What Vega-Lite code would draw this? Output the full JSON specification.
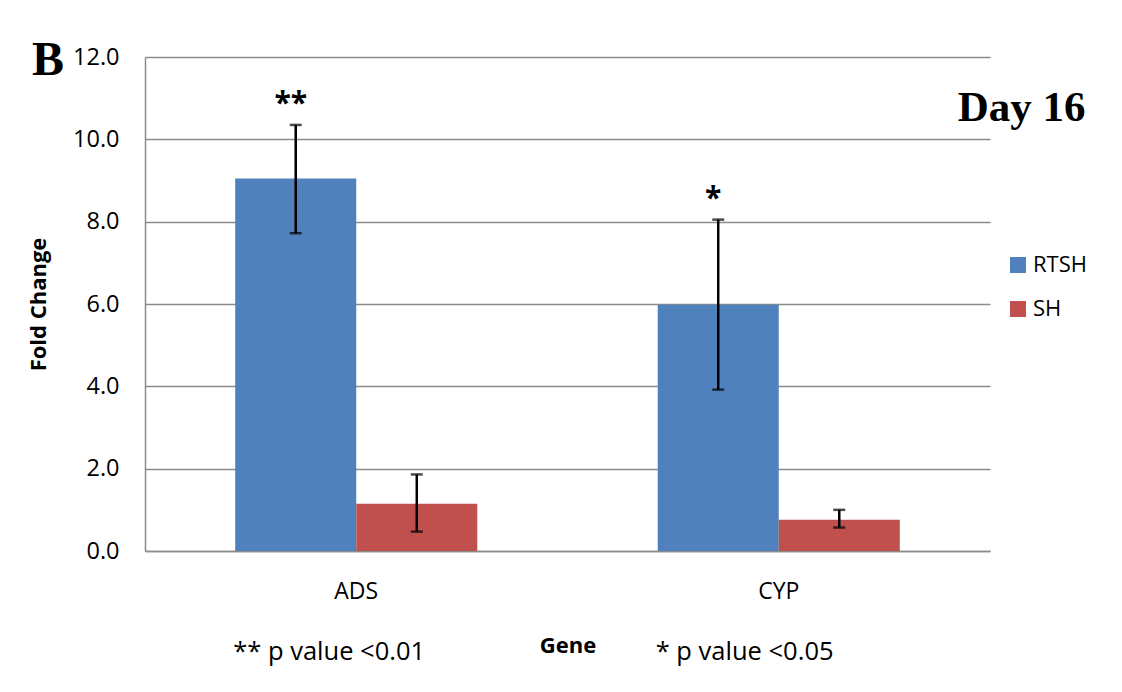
{
  "$schema": "https://vega.github.io/schema/vega-lite/v6.json",
  "width": 845,
  "height": 494,
  "autosize": "none",
  "padding": {"left": 145, "top": 57, "right": 132, "bottom": 141},
  "background": "#ffffff",
  "config": {
    "view": {"stroke": null},
    "font": "Open Sans"
  },
  "title": {
    "text": "B",
    "anchor": "start",
    "frame": "group",
    "font": "Liberation Serif",
    "fontSize": 48,
    "fontWeight": "bold",
    "color": "#000000",
    "baseline": "alphabetic",
    "offset": 0,
    "dx": -113,
    "dy": 78
  },
  "datasets": {
    "bars": [
      {"Gene": "ADS", "Group": "RTSH", "value": 9.05, "lower": 7.72, "upper": 10.35, "sig": "**"},
      {"Gene": "ADS", "Group": "SH", "value": 1.15, "lower": 0.47, "upper": 1.86, "sig": ""},
      {"Gene": "CYP", "Group": "RTSH", "value": 5.98, "lower": 3.92, "upper": 8.05, "sig": "*"},
      {"Gene": "CYP", "Group": "SH", "value": 0.76, "lower": 0.57, "upper": 1.0, "sig": ""}
    ],
    "notes": [
      {"Gene": "ADS", "note": "** p value <0.01"},
      {"Gene": "CYP", "note": "* p value <0.05"}
    ],
    "day": [
      {"Gene": "CYP", "label": "Day 16"}
    ]
  },
  "layer": [
    {
      "data": {"name": "bars"},
      "mark": {"type": "bar"},
      "encoding": {
        "x": {
          "field": "Gene",
          "type": "nominal",
          "scale": {"paddingInner": 0.427, "paddingOuter": 0.2135},
          "axis": {
            "title": "Gene",
            "labelAngle": 0,
            "labelFont": "Open Sans",
            "labelFontSize": 23,
            "labelColor": "#000000",
            "labelPadding": 29,
            "ticks": false,
            "domainColor": "#8c8c8c",
            "domainWidth": 1.5,
            "titleFont": "Open Sans",
            "titleFontSize": 22,
            "titleFontWeight": "bold",
            "titleColor": "#000000",
            "titlePadding": 32
          }
        },
        "xOffset": {
          "field": "Group",
          "type": "nominal",
          "scale": {"paddingInner": 0, "paddingOuter": 0}
        },
        "y": {
          "field": "value",
          "type": "quantitative",
          "scale": {"domain": [0, 12], "nice": false},
          "axis": {
            "title": "Fold Change",
            "values": [0, 2, 4, 6, 8, 10, 12],
            "format": ".1f",
            "grid": true,
            "gridColor": "#8c8c8c",
            "gridWidth": 1.5,
            "domainColor": "#8c8c8c",
            "domainWidth": 1.5,
            "ticks": false,
            "labelFont": "Open Sans",
            "labelFontSize": 23.5,
            "labelColor": "#000000",
            "labelPadding": 26,
            "titleFont": "Open Sans",
            "titleFontSize": 22,
            "titleFontWeight": "bold",
            "titleColor": "#000000",
            "titlePadding": 22
          }
        },
        "color": {
          "field": "Group",
          "type": "nominal",
          "scale": {"domain": ["RTSH", "SH"], "range": ["#4F81BD", "#C0504D"]},
          "legend": {
            "title": null,
            "orient": "none",
            "legendX": 862,
            "legendY": 197,
            "symbolType": "square",
            "symbolSize": 256,
            "symbolStrokeWidth": 0,
            "labelFont": "Open Sans",
            "labelFontSize": 22,
            "labelColor": "#000000",
            "labelOffset": 4,
            "rowPadding": 22,
            "padding": 0
          }
        }
      }
    },
    {
      "data": {"name": "bars"},
      "mark": {"type": "rule", "color": "#000000", "strokeWidth": 2.5},
      "encoding": {
        "x": {"field": "Gene", "type": "nominal"},
        "xOffset": {"field": "Group", "type": "nominal"},
        "y": {"field": "lower", "type": "quantitative"},
        "y2": {"field": "upper"}
      }
    },
    {
      "data": {"name": "bars"},
      "mark": {"type": "tick", "color": "#000000", "size": 12, "thickness": 2.5, "orient": "horizontal"},
      "encoding": {
        "x": {"field": "Gene", "type": "nominal"},
        "xOffset": {"field": "Group", "type": "nominal"},
        "y": {"field": "lower", "type": "quantitative"}
      }
    },
    {
      "data": {"name": "bars"},
      "mark": {"type": "tick", "color": "#000000", "size": 12, "thickness": 2.5, "orient": "horizontal"},
      "encoding": {
        "x": {"field": "Gene", "type": "nominal"},
        "xOffset": {"field": "Group", "type": "nominal"},
        "y": {"field": "upper", "type": "quantitative"}
      }
    },
    {
      "data": {"name": "bars"},
      "transform": [{"filter": "datum.sig != ''"}],
      "mark": {"type": "text", "font": "Open Sans", "fontSize": 30, "fontWeight": "bold", "color": "#000000", "baseline": "alphabetic", "dy": -12, "dx": -5},
      "encoding": {
        "x": {"field": "Gene", "type": "nominal"},
        "xOffset": {"field": "Group", "type": "nominal"},
        "y": {"field": "upper", "type": "quantitative"},
        "text": {"field": "sig"}
      }
    },
    {
      "data": {"name": "notes"},
      "mark": {"type": "text", "font": "Open Sans", "fontSize": 25.5, "color": "#000000", "align": "left", "baseline": "middle", "dx": -2},
      "encoding": {
        "x": {"field": "Gene", "type": "nominal", "bandPosition": 0},
        "y": {"datum": -2.45},
        "text": {"field": "note"}
      }
    },
    {
      "data": {"name": "day"},
      "mark": {"type": "text", "font": "Liberation Serif", "fontSize": 43, "fontWeight": "bold", "color": "#000000", "align": "left", "baseline": "alphabetic", "dx": 58},
      "encoding": {
        "x": {"field": "Gene", "type": "nominal", "bandPosition": 1},
        "y": {"datum": 10.44},
        "text": {"field": "label"}
      }
    }
  ]
}
